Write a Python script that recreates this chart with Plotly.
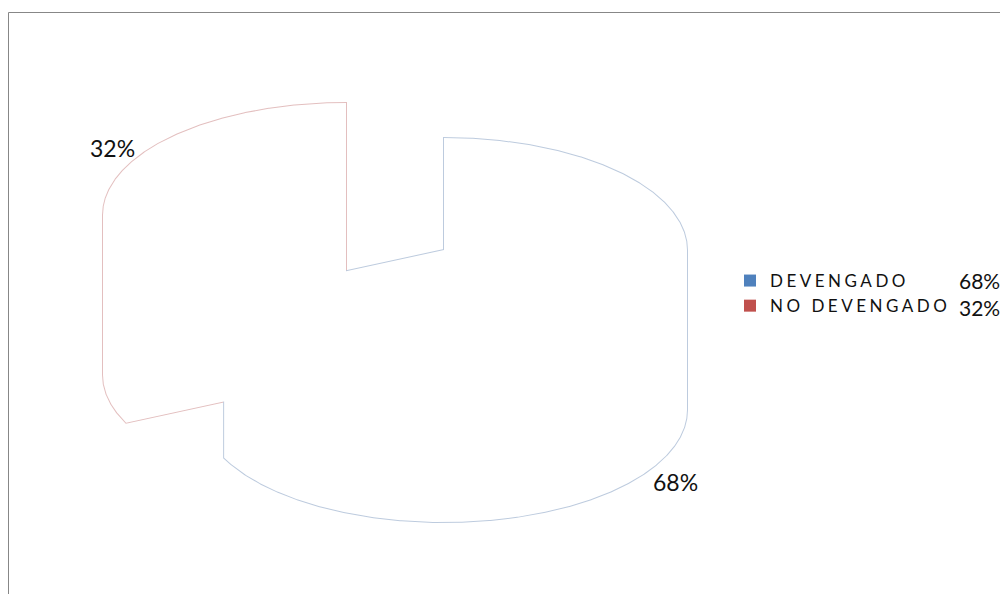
import numpy as np
import plotly.graph_objects as go

# ---------------- data ----------------
categories = ["DEVENGADO", "NO DEVENGADO"]
values = [68, 32]
legend_colors = ["#4F81BD", "#C0504D"]
outline_colors = ["rgba(185,200,220,0.95)", "rgba(226,188,188,0.95)"]

# ---------------- layout constants (figure pixels) ----------------
W, H = 1008, 594
CX, CY = 436, 242        # centre of top face of the (unexploded) pie
RX, RY = 243, 112        # ellipse radii of the tilted pie
DEPTH = 160              # thickness of the 3-D pie
EXPLODE = [(0, 0), (-98, -35)]   # offset of each slice

total = float(sum(values))
fracs = [v / total for v in values]
starts = np.concatenate([[0.0], np.cumsum(fracs)[:-1]]) * 360.0
ends = np.cumsum(fracs) * 360.0


def rim(theta_deg, cx, cy):
    t = np.radians(theta_deg)
    return cx + RX * np.sin(t), cy - RY * np.cos(t)


def silhouette(t1, t2, cx, cy):
    ts = np.linspace(t1, t2, 721)
    extra = [a for a in (90.0, 180.0, 270.0) if t1 < a < t2]
    ts = np.unique(np.concatenate([ts, extra]))
    rx, ry = rim(ts, cx, cy)
    px = np.concatenate([[cx], rx])
    py = np.concatenate([[cy], ry])
    n = len(px)
    il, ir = int(np.argmin(px)), int(np.argmax(px))
    upper, i = [il], il
    while i != ir:
        i = (i + 1) % n
        upper.append(i)
    lower, i = [ir], ir
    while i != il:
        i = (i + 1) % n
        lower.append(i)
    sx = list(px[upper]) + list(px[lower])
    sy = list(py[upper]) + list(py[lower] + DEPTH)
    sx.append(sx[0])
    sy.append(sy[0])
    return sx, sy


shapes_xy = []
for k in range(len(values)):
    dx, dy = EXPLODE[k]
    shapes_xy.append(silhouette(starts[k], ends[k], CX + dx, CY + dy))

fig = go.Figure()
order = [1, 0]
for k in order:
    sx, sy = shapes_xy[k]
    fig.add_trace(go.Scatter(x=sx, y=sy, mode="lines",
                             line=dict(color=outline_colors[k], width=2),
                             hoverinfo="skip", showlegend=False))
for k in order:
    sx, sy = shapes_xy[k]
    fig.add_trace(go.Scatter(x=sx, y=sy, mode="lines", fill="toself",
                             fillcolor="white",
                             line=dict(color="white", width=0),
                             hoverinfo="skip", showlegend=False))

for k in range(len(values)):
    fig.add_trace(go.Scatter(x=[None], y=[None], mode="markers",
                             marker=dict(symbol="square", size=12,
                                         color=legend_colors[k]),
                             name=categories[k]))

pct_text = ["%d%%" % round(f * 100) for f in fracs]
label_pos = [(667, 474), (104, 140)]
annotations = []
for k in range(len(values)):
    annotations.append(dict(x=label_pos[k][0], y=label_pos[k][1], xref="x", yref="y",
                            text=pct_text[k], showarrow=False,
                            font=dict(family="Lato", size=23, color="#111111")))
legend_pct_y = [272, 299]
for k in range(len(values)):
    annotations.append(dict(x=949, y=legend_pct_y[k], xref="x", yref="y",
                            xanchor="left", text=pct_text[k], showarrow=False,
                            font=dict(family="Lato", size=21, color="#111111")))

fig.update_layout(
    width=W, height=H,
    margin=dict(l=0, r=0, t=0, b=0),
    paper_bgcolor="white", plot_bgcolor="white",
    xaxis=dict(range=[0, W], visible=False, fixedrange=True),
    yaxis=dict(range=[H, 0], visible=False, fixedrange=True),
    showlegend=True,
    legend=dict(x=722 / W, y=1 - 255 / H, xanchor="left", yanchor="top",
                font=dict(family="Lato", size=17, color="#111111"),
                itemwidth=30, bgcolor="rgba(0,0,0,0)", tracegroupgap=0),
    annotations=annotations,
    shapes=[dict(type="rect", xref="x", yref="y", x0=0.5, y0=4.5, x1=W + 5, y1=H + 5,
                 line=dict(color="#878787", width=1), fillcolor="rgba(0,0,0,0)",
                 layer="above")],
)

post = ("var s=document.createElement('style');"
        "s.innerHTML='.legendtext{letter-spacing:3.5px}"
        " .legend .scrollbox, .legend g{clip-path:none !important}';"
        "document.head.appendChild(s);")
fig.write_html("out.html", post_script=post)
